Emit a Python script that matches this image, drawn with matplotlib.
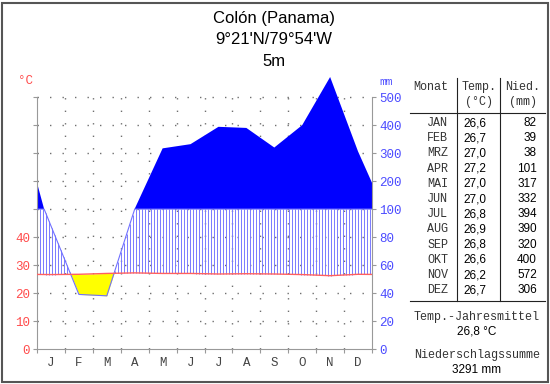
'''
Walter-Lieth climate diagram
for Colon (Panama)
'''

######################################

import numpy as np
import matplotlib
matplotlib.use('Agg')
import matplotlib.pyplot as plt
from matplotlib.lines import Line2D
from matplotlib.patches import Rectangle

######################################

# station data
title=['Colón (Panama)',"9°21'N/79°54'W",'5m']
months=['J','F','M','A','M','J','J','A','S','O','N','D']
monthNames=['JAN','FEB','MRZ','APR','MAI','JUN','JUL','AUG','SEP','OKT','NOV','DEZ']
temp=[26.6,26.7,27.0,27.2,27.0,27.0,26.8,26.9,26.8,26.6,26.2,26.7]
prec=[82,39,38,101,317,332,394,390,320,400,572,306]
tempTicks=['0','10','20','30','40']
precTicks=['0','20','40','60','80','100','200','300','400','500']
meanTemp='26,8 °C'
sumPrec='3291 mm'

######################################

def scalePrec(p):
  '''map mm onto the degree scale (2mm per degree, 10mm above 100mm)'''
  p=np.asarray(p,dtype=float)
  return np.where(p<=100,p/2.,50.+(p-100.)/10.)

def px(x,y):
  '''pixel position to figure fraction'''
  return x/550.,1-y/384.

######################################

W,H=550,384
fig=plt.figure(figsize=(5.5,3.84),dpi=100)
ax=fig.add_axes([37/W,1-349/H,335/W,(349-77)/H])

red='#ff4b4b'
blue='#4b4bff'
mono='Liberation Mono'
sans='Liberation Sans'

# vertices at month centres, year edges from the Dec/Jan mean
x=np.concatenate([[0],np.arange(0.5,12,1.0),[12]])
tEdge=(temp[-1]+temp[0])/2.
pEdge=(prec[-1]+prec[0])/2.
t=np.array([tEdge]+temp+[tEdge])
p=scalePrec([pEdge]+prec+[pEdge])

# humid part above 100mm
ax.fill_between(x,50,p,where=p>50,interpolate=True,color='#0000ff',lw=0,zorder=2)

# lower curve: the original joins the 100mm crossing
# at the start of the year straight on to February
xc=x[0]+(p[0]-50)/(p[0]-p[1])*(x[1]-x[0])
xl=np.concatenate([[x[0],xc],x[2:]])
pl=np.minimum(np.concatenate([[50,50],p[2:]]),50)

# dense copies for filling
xd=np.linspace(0,12,2401)
td=np.interp(xd,x,t)
pd=np.interp(xd,xl,pl)

# arid part
ax.fill_between(xd,td,pd,where=td>pd,interpolate=True,color='#ffff00',lw=0,zorder=2)

# humid part below 100mm as vertical lines
hx=np.arange(0.1,12.0001,3/27.9)
ht=np.interp(hx,xd,td)
hp=np.interp(hx,xd,pd)
wet=hp>ht
ax.vlines(hx[wet],ht[wet],hp[wet],colors='#7a7aff',lw=0.7,zorder=2)

# curves
ax.plot(xl,pl,color='#7070ff',lw=0.8,zorder=3)
ax.plot(x,t,color='#ff6060',lw=1.0,zorder=4)

# dotted grid
for yy in range(10,100,10):
  ax.plot([0,12],[yy,yy],color='#707070',lw=1,ls=(0,(1,8)),zorder=1)
for xx in range(1,12):
  ax.plot([xx,xx],[0,90],color='#707070',lw=1,ls=(0,(1,8)),zorder=1)

ax.set_xlim(0,12)
ax.set_ylim(0,97.2)

# spines
for s in ['top','right']:
  ax.spines[s].set_visible(False)
for s in ['left','bottom']:
  ax.spines[s].set_color('#999999')
ax.spines['left'].set_bounds(0,90)

# left (temperature) axis
ax.set_yticks(range(0,100,10))
ax.set_yticklabels(tempTicks+['']*5,fontfamily=mono,fontsize=9,color=red)
ax.tick_params(axis='y',length=3,color='#999999',pad=2)

# months
ax.set_xticks(range(13))
ax.set_xticklabels(['']*13)
ax.tick_params(axis='x',length=3,color='#999999')
ax.set_xticks(np.arange(0.5,12,1),minor=True)
ax.set_xticklabels(months,minor=True,fontfamily=mono,fontsize=9,color='#444444')
ax.tick_params(axis='x',which='minor',length=0,pad=6)

# right (precipitation) axis
ax2=ax.twinx()
ax2.set_ylim(ax.get_ylim())
for s in ['top','left','bottom']:
  ax2.spines[s].set_visible(False)
ax2.spines['right'].set_color('#999999')
ax2.spines['right'].set_bounds(0,90)
ax2.set_yticks(range(0,100,10))
ax2.set_yticklabels(precTicks,fontfamily=mono,fontsize=9,color=blue)
ax2.tick_params(axis='y',length=3,color='#999999',pad=2)

# units
fig.text(*px(25,81),'°C',color=red,fontfamily=mono,fontsize=9,ha='center',va='center')
fig.text(*px(386,82),'mm',color=blue,fontfamily=mono,fontsize=8,ha='center',va='center')

# title
for i,line in enumerate(title):
  fig.text(*px(274,18+22*i),line,fontfamily=sans,fontsize=12,ha='center',va='center')

######################################

# table on the right
tk=dict(fontsize=8.5,va='center')
fig.text(*px(431,87),'Monat',fontfamily=mono,ha='center',color='#333333',**tk)
fig.text(*px(479,87),'Temp.',fontfamily=mono,ha='center',color='#333333',**tk)
fig.text(*px(479,102),'(°C)',fontfamily=mono,ha='center',color='#333333',**tk)
fig.text(*px(523,87),'Nied.',fontfamily=mono,ha='center',color='#333333',**tk)
fig.text(*px(523,102),'(mm)',fontfamily=mono,ha='center',color='#333333',**tk)

for i in range(12):
  yy=123+15.2*i
  fig.text(*px(448,yy),monthNames[i],fontfamily=mono,ha='right',color='#333333',**tk)
  fig.text(*px(486,yy),('%.1f'%temp[i]).replace('.',','),fontfamily=sans,ha='right',**tk)
  fig.text(*px(537,yy),str(prec[i]),fontfamily=sans,ha='right',**tk)

fig.text(*px(477,317),'Temp.-Jahresmittel',fontfamily=mono,ha='center',color='#333333',**tk)
fig.text(*px(477,332),meanTemp,fontfamily=sans,ha='center',**tk)
fig.text(*px(477,355),'Niederschlagssumme',fontfamily=mono,ha='center',color='#333333',**tk)
fig.text(*px(477,370),sumPrec,fontfamily=sans,ha='center',**tk)

# table lines
for xx in [457,500]:
  fig.add_artist(Line2D([xx/W,xx/W],[1-78/H,1-301/H],color='#222222',lw=0.8))
for yy in [113,301]:
  fig.add_artist(Line2D([410/W,545/W],[1-yy/H,1-yy/H],color='#222222',lw=0.8))

# frame round the picture
fig.add_artist(Rectangle((2/W,2/H),546/W,379/H,fill=False,edgecolor='#555555',lw=1.5))

fig.savefig('out.png',dpi=100)
